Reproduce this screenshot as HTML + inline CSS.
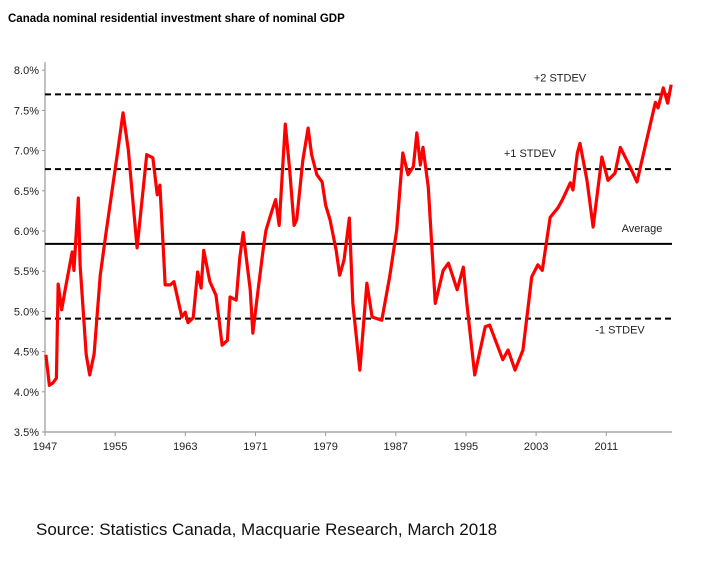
<!DOCTYPE html>
<html><head><meta charset="utf-8"><style>
body{margin:0;background:#fff;width:711px;height:563px;overflow:hidden;font-family:"Liberation Sans",sans-serif}
</style></head><body>
<svg width="711" height="563" id="c">
<text x="8" y="22" font-size="11.5" font-weight="bold" fill="#000">Canada nominal residential investment share of nominal GDP</text>
<text x="36" y="535" font-size="17" fill="#111">Source: Statistics Canada, Macquarie Research, March 2018</text>
</svg>
<script>
const years=[1947.1,1947.5,1947.9,1948.3,1948.5,1948.9,1949.3,1950.1,1950.3,1950.8,1951.0,1951.7,1952.1,1952.6,1953.3,1954.0,1955.2,1955.9,1956.5,1957.5,1958.6,1959.3,1959.8,1960.1,1960.5,1960.7,1961.3,1961.7,1962.6,1963.0,1963.3,1963.9,1964.4,1964.8,1965.1,1965.8,1966.5,1967.2,1967.8,1968.1,1968.8,1969.2,1969.6,1970.4,1970.7,1971.3,1971.9,1972.2,1972.9,1973.3,1973.7,1974.4,1974.9,1975.4,1975.7,1976.4,1977.0,1977.4,1978.0,1978.6,1979.0,1979.5,1980.2,1980.6,1981.1,1981.7,1982.1,1982.9,1983.7,1984.3,1985.4,1986.3,1987.1,1987.8,1988.4,1989.0,1989.4,1989.8,1990.1,1990.7,1991.5,1992.4,1993.0,1994.0,1994.7,1995.1,1996.0,1997.2,1997.7,1999.2,1999.8,2000.6,2001.5,2002.5,2003.2,2003.7,2004.6,2005.5,2006.0,2006.9,2007.2,2007.7,2008.0,2008.8,2009.5,2010.5,2011.2,2012.0,2012.6,2013.7,2014.5,2015.6,2016.6,2016.9,2017.5,2018.0,2018.4];
const shares=[4.46,4.08,4.11,4.17,5.34,5.02,5.27,5.74,5.51,6.41,5.58,4.46,4.21,4.47,5.45,6.01,6.92,7.47,7.01,5.79,6.95,6.91,6.45,6.57,5.76,5.33,5.33,5.37,4.93,4.99,4.86,4.92,5.49,5.29,5.76,5.37,5.20,4.58,4.64,5.18,5.14,5.66,5.98,5.27,4.73,5.27,5.79,6.01,6.26,6.39,6.07,7.33,6.76,6.07,6.14,6.88,7.28,6.95,6.70,6.61,6.32,6.14,5.76,5.45,5.64,6.16,5.10,4.27,5.35,4.93,4.89,5.43,6.01,6.97,6.70,6.80,7.22,6.82,7.04,6.55,5.10,5.51,5.60,5.27,5.55,5.10,4.21,4.81,4.83,4.40,4.52,4.27,4.52,5.43,5.58,5.51,6.17,6.29,6.39,6.60,6.51,6.97,7.09,6.63,6.05,6.92,6.63,6.72,7.04,6.80,6.61,7.13,7.60,7.53,7.78,7.59,7.82];
const yTicks=[3.5,4.0,4.5,5.0,5.5,6.0,6.5,7.0,7.5,8.0];
const xTicks=[1947,1955,1963,1971,1979,1987,1995,2003,2011];
const refValues=[7.70,6.77,5.84,4.91];
const refLabels=["+2 STDEV","+1 STDEV","Average","-1 STDEV"];
const refDashed=[true,true,false,true];
const X=y=>45+(y-1947)*8.77, Y=v=>432-(v-3.5)*80.4;
const s=document.getElementById('c'),NS="http://www.w3.org/2000/svg";
function mk(t,a){const e=document.createElementNS(NS,t);for(const k in a)e.setAttribute(k,a[k]);s.appendChild(e);return e;}
let e=mk('line',{x1:45,y1:Y(8.1),x2:45,y2:432,stroke:'#999','stroke-width':1.2});

e=mk('line',{x1:45,y1:432,x2:672,y2:432,stroke:'#999','stroke-width':1.2});

yTicks.forEach(v=>{
 e=mk('line',{x1:42,x2:45,y1:Y(v),y2:Y(v),stroke:'#999'});
 
 e=mk('text',{x:39,y:Y(v)+4,'text-anchor':'end','font-size':11,fill:'#222'});e.textContent=v.toFixed(1)+'%';
 
});
xTicks.forEach(y=>{
 e=mk('line',{x1:X(y),x2:X(y),y1:432,y2:436,stroke:'#999'});
 
 e=mk('text',{x:X(y),y:450,'text-anchor':'middle','font-size':11,fill:'#222'});e.textContent=y;
 
});
const labX=[560,530,642,620],labDy=[-13,-12,-12,15];
refValues.forEach((v,i)=>{
 e=mk('line',{x1:45,x2:672,y1:Y(v),y2:Y(v),stroke:'#000','stroke-width':2,'stroke-dasharray':refDashed[i]?'6,4':'none'});
 
 e=mk('text',{x:labX[i],y:Y(v)+labDy[i],'text-anchor':'middle','font-size':11,fill:'#222'});e.textContent=refLabels[i];
 
});
e=mk('polyline',{points:years.map((y,i)=>X(y)+','+Y(shares[i])).join(' '),fill:'none',stroke:'#f00','stroke-width':3.2,'stroke-linejoin':'round'});

</script>
</body></html>
